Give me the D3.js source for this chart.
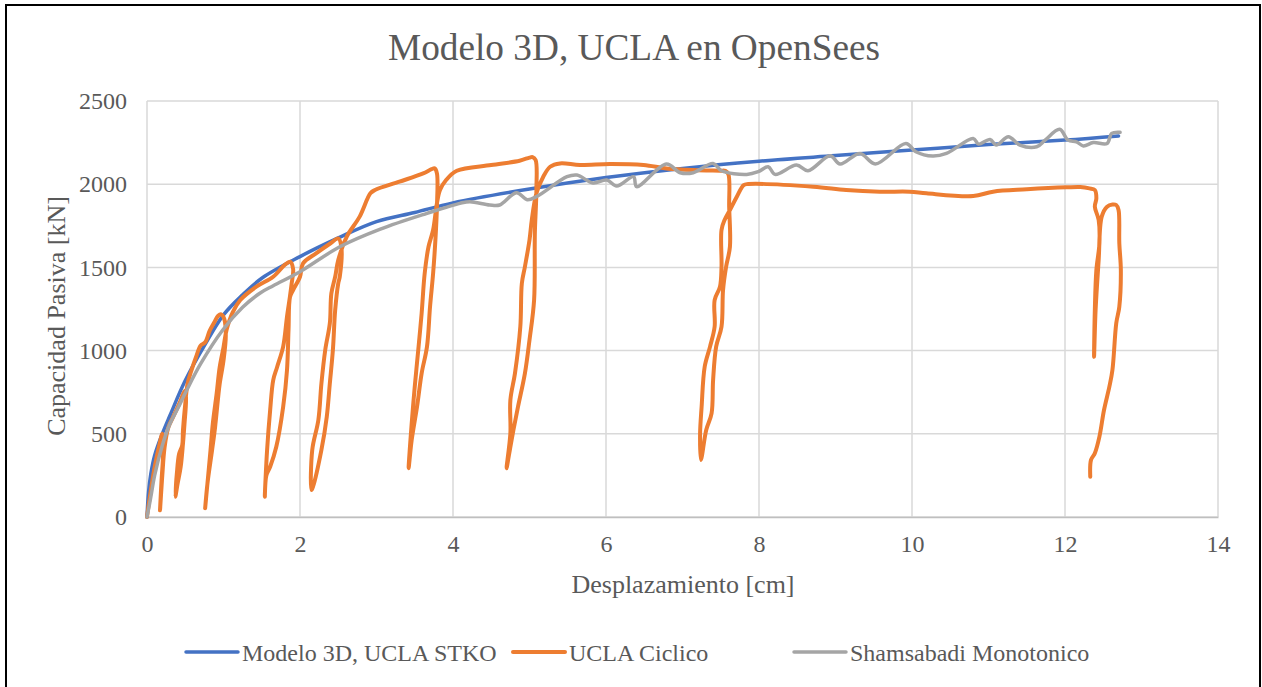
<!DOCTYPE html>
<html>
<head>
<meta charset="utf-8">
<script src="https://cdn.jsdelivr.net/npm/d3@7"></script>
<style>
  html, body { margin: 0; padding: 0; background: #fff; }
  svg { display: block; font-family: "Liberation Serif", "Times New Roman", serif; }
</style>
</head>
<body>
<svg id="chart" width="1262" height="687"></svg>
<script>
// Axis ticks
const xTicks = [0, 2, 4, 6, 8, 10, 12, 14];
const yTicks = [0, 500, 1000, 1500, 2000, 2500];

// Modelo 3D, UCLA STKO
const blueX = [0, 0.02, 0.05, 0.1, 0.2, 0.3, 0.5, 0.75, 1, 1.25, 1.5, 2, 2.5, 3, 3.5, 4, 5, 6, 7, 8, 9, 10, 11, 12, 12.7];
const blueY = [0, 150, 260, 370, 500, 610, 820, 1030, 1215, 1335, 1435, 1565, 1677, 1775, 1830, 1888, 1971, 2040, 2095, 2138, 2172, 2205, 2238, 2265, 2290];

// UCLA Ciclico
const orangeX = [0, 0.04, 0.1, 0.16, 0.2, 0.21, 0.19, 0.17, 0.2, 0.23, 0.28, 0.34, 0.42, 0.5, 0.51, 0.49, 0.47, 0.44, 0.4, 0.37,
  0.39, 0.42, 0.46, 0.47, 0.5, 0.53, 0.58, 0.64, 0.7, 0.76, 0.82, 0.88, 0.93, 0.97, 1.01, 1.03, 1.0, 0.95, 0.93, 0.89, 0.85, 0.79, 0.76,
  0.8, 0.83, 0.86, 0.91, 0.95, 1.0, 1.04, 1.12, 1.22, 1.43, 1.65, 1.8, 1.87, 1.91,
  1.89, 1.87, 1.83, 1.78, 1.7, 1.65, 1.61, 1.57, 1.54,
  1.56, 1.61, 1.69, 1.78, 1.83, 1.85, 1.87, 1.91, 2.0, 2.04, 2.21, 2.4, 2.5, 2.54,
  2.52, 2.5, 2.46, 2.43, 2.39, 2.35, 2.28, 2.17, 2.15,
  2.16, 2.24, 2.28, 2.33, 2.39, 2.41, 2.46, 2.5, 2.61, 2.78, 2.92, 2.98, 3.3, 3.61, 3.72, 3.76,
  3.79, 3.79, 3.77, 3.74, 3.7, 3.66, 3.59, 3.53, 3.46, 3.42,
  3.46, 3.5, 3.55, 3.59, 3.63, 3.68, 3.74, 3.79, 3.83, 3.91, 4.05, 4.5, 4.87, 5.0, 5.04, 5.08,
  5.09, 5.07, 5.06, 5.0, 4.94, 4.85, 4.79, 4.75, 4.7,
  4.75, 4.75, 4.81, 4.88, 4.9, 4.94, 5.0, 5.03, 5.09, 5.18, 5.27, 5.4, 5.66, 6.05, 6.49, 6.79, 7.14, 7.49, 7.56, 7.6,
  7.61, 7.62, 7.57, 7.53, 7.51, 7.44, 7.4, 7.38, 7.31, 7.24,
  7.23, 7.25, 7.29, 7.36, 7.42, 7.42, 7.49, 7.51, 7.51, 7.55, 7.62, 7.71, 7.8, 7.86, 8.71, 9.14, 9.58, 9.97, 10.19, 10.8, 11.06, 11.5, 12.02, 12.2, 12.32, 12.39,
  12.41, 12.39, 12.44, 12.45, 12.41, 12.39, 12.38,
  12.4, 12.44, 12.48, 12.55, 12.62, 12.67, 12.7,
  12.71, 12.73, 12.71, 12.67, 12.62, 12.58, 12.51, 12.45, 12.39, 12.34, 12.33];
const orangeY = [0, 130, 300, 430, 500, 380, 220, 40, 250, 420, 540, 600, 680, 760, 700, 560, 440, 300, 200, 122,
  260, 380, 430, 520, 680, 800, 880, 960, 1030, 1050, 1120, 1170, 1210, 1218, 1190, 1090, 940, 800, 720, 540, 400, 200, 52,
  250, 400, 560, 740, 900, 1020, 1124, 1230, 1304, 1384, 1444, 1515, 1534, 1490,
  1400, 1330, 1204, 1024, 900, 823, 643, 403, 122,
  250, 302, 422, 663, 883, 1124, 1324, 1364, 1444, 1524, 1584, 1645, 1674, 1624,
  1444, 1404, 1244, 1004, 803, 603, 403, 182, 162,
  403, 583, 803, 1004, 1164, 1344, 1444, 1544, 1684, 1805, 1945, 1965, 2015, 2065, 2090, 2095,
  2065, 1865, 1665, 1464, 1264, 1024, 863, 663, 463, 293,
  563, 783, 1024, 1224, 1464, 1624, 1725, 1885, 1965, 2025, 2081, 2115, 2141, 2160, 2163, 2145,
  1965, 1705, 1304, 1064, 863, 663, 523, 422, 293,
  503, 703, 863, 1144, 1404, 1504, 1665, 1785, 1945, 2045, 2105, 2125, 2115, 2121, 2115, 2095, 2085, 2081, 2080, 2060,
  1865, 1624, 1504, 1364, 1144, 1024, 823, 623, 523, 343,
  503, 663, 903, 1024, 1144, 1304, 1384, 1504, 1725, 1785, 1845, 1925, 1995, 2001, 1985, 1965, 1955, 1955, 1945, 1929, 1955, 1969, 1981, 1983, 1975, 1965,
  1915, 1865, 1785, 1645, 1484, 1244, 963,
  1244, 1544, 1805, 1865, 1878, 1875, 1845,
  1645, 1484, 1264, 1164, 883, 783, 643, 483, 383, 343, 242];

// Shamsabadi Monotonico
const grayX = [0, 0.05, 0.1, 0.2, 0.3, 0.4, 0.52, 0.7, 0.99, 1.25, 1.48, 1.65, 2.0, 2.52, 3.05, 3.66, 4.09, 4.22, 4.48, 4.61, 4.83, 4.97, 5.09, 5.49, 5.62, 5.83, 6.01, 6.14, 6.36, 6.4, 6.79, 6.97, 7.14, 7.4, 7.51, 7.84, 7.99, 8.12, 8.21, 8.49, 8.64, 8.93, 9.06, 9.32, 9.52, 9.92, 10.05, 10.27, 10.45, 10.8, 10.87, 11.02, 11.1, 11.26, 11.41, 11.63, 11.74, 11.93, 12.04, 12.15, 12.24, 12.37, 12.55, 12.61, 12.72];
const grayY = [0, 120, 250, 430, 560, 650, 763, 920, 1124, 1260, 1346, 1390, 1474, 1624, 1730, 1825, 1885, 1895, 1875, 1875, 1949, 1907, 1925, 2045, 2055, 2007, 2025, 1989, 2045, 1985, 2121, 2069, 2069, 2125, 2081, 2059, 2075, 2105, 2059, 2115, 2081, 2171, 2121, 2185, 2122, 2245, 2195, 2169, 2185, 2275, 2241, 2269, 2235, 2285, 2235, 2225, 2265, 2330, 2265, 2255, 2230, 2250, 2245, 2305, 2312];

const seriesNames = ["Modelo 3D, UCLA STKO", "UCLA Ciclico", "Shamsabadi Monotonico"];
const seriesColors = ["#4472C4", "#ED7D31", "#A5A5A5"];
const seriesWidths = [3.5, 4, 3.5];

const svg = d3.select("#chart");
const textColor = "#595959";
const serif = "Liberation Serif, Times New Roman, serif";

// Outer chart frame
svg.append("rect")
  .attr("x", 6).attr("y", 5)
  .attr("width", 1254).attr("height", 700)
  .attr("fill", "#fff").attr("stroke", "#000").attr("stroke-width", 2);

const x = d3.scaleLinear().domain([0, 14]).range([147, 1218]);
const y = d3.scaleLinear().domain([0, 2500]).range([517, 101]);

// Gridlines
const grid = svg.append("g");
grid.selectAll("line.v").data(xTicks).join("line")
  .attr("x1", d => x(d)).attr("x2", d => x(d))
  .attr("y1", y(0)).attr("y2", y(2500))
  .attr("stroke", "#D9D9D9").attr("stroke-width", 1.5);
grid.selectAll("line.h").data(yTicks).join("line")
  .attr("x1", x(0)).attr("x2", x(14))
  .attr("y1", d => y(d)).attr("y2", d => y(d))
  .attr("stroke", "#D9D9D9").attr("stroke-width", 1.5);

// Axes
const xAxis = d3.axisBottom(x).tickValues(xTicks).tickSize(0).tickPadding(18).tickFormat(d3.format("d"));
const yAxis = d3.axisLeft(y).tickValues(yTicks).tickSize(0).tickPadding(20).tickFormat(d3.format("d"));

const gx = svg.append("g").attr("transform", `translate(0,${y(0)})`).call(xAxis)
  .attr("font-family", serif);
gx.select(".domain").attr("stroke", "#BFBFBF").attr("stroke-width", 1.5);
gx.selectAll("text").attr("font-size", 24).attr("fill", textColor);

const gy = svg.append("g").attr("transform", `translate(${x(0)},0)`).call(yAxis)
  .attr("font-family", serif);
gy.select(".domain").remove();
gy.selectAll("text").attr("font-size", 24).attr("fill", textColor);

// Series
const line = d3.line()
  .x(d => x(d[0])).y(d => y(d[1]))
  .curve(d3.curveCatmullRom.alpha(0.5));

const series = [
  d3.zip(blueX, blueY),
  d3.zip(orangeX, orangeY),
  d3.zip(grayX, grayY)
];

svg.append("g").selectAll("path").data(series).join("path")
  .attr("d", line)
  .attr("fill", "none")
  .attr("stroke", (d, i) => seriesColors[i])
  .attr("stroke-width", (d, i) => seriesWidths[i])
  .attr("stroke-linejoin", "round")
  .attr("stroke-linecap", "round");

// Title
svg.append("text")
  .attr("x", 634).attr("y", 60)
  .attr("text-anchor", "middle")
  .attr("font-size", 37.3).attr("fill", textColor)
  .text("Modelo 3D, UCLA en OpenSees");

// Axis titles
svg.append("text")
  .attr("x", 683).attr("y", 593)
  .attr("text-anchor", "middle")
  .attr("font-size", 26).attr("fill", textColor)
  .text("Desplazamiento [cm]");

svg.append("text")
  .attr("transform", "translate(65,316) rotate(-90)")
  .attr("text-anchor", "middle")
  .attr("font-size", 26).attr("fill", textColor)
  .text("Capacidad Pasiva [kN]");

// Legend
const legendX = [186, 513, 794];
const legend = svg.append("g");
seriesNames.forEach((name, i) => {
  const g = legend.append("g").attr("transform", `translate(${legendX[i]},652)`);
  g.append("line").attr("x1", 0).attr("x2", 52).attr("y1", 0).attr("y2", 0)
    .attr("stroke", seriesColors[i]).attr("stroke-width", seriesWidths[i]).attr("stroke-linecap", "round");
  g.append("text").attr("x", 56).attr("y", 8.5)
    .attr("font-size", 24).attr("fill", textColor)
    .text(name);
});
</script>
</body>
</html>
